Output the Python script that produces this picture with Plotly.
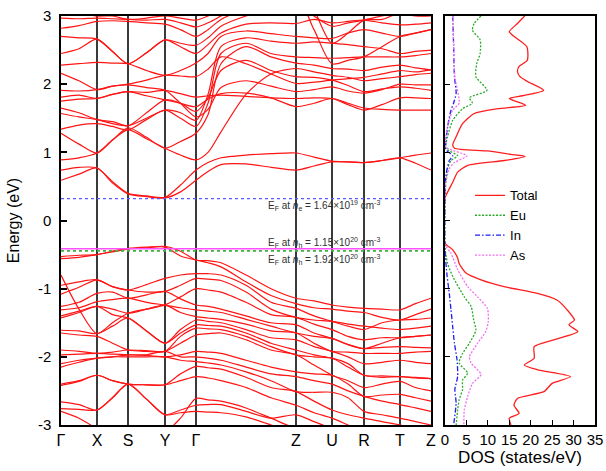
import plotly.graph_objects as go

# ---------------- band structure ----------------
# k-path positions of high-symmetry points (path length units)
hs_pos = [0, 36, 67, 104, 135, 235, 271, 303, 339, 370]
hs_labels = ["Γ", "X", "S", "Y", "Γ", "Z", "U", "R", "T", "Z"]

# sampling points along the path where band energies are tabulated
k_path = [0, 18, 36, 51.5, 67, 85.5, 104, 119.5, 135, 147, 160, 185, 210,
          235, 253, 271, 287, 303, 321, 339, 354.5, 370]

# conduction bands (eV)
cb01 = [0.59, 0.68, 0.77, 0.55, 0.39, 0.35, 0.33, 0.42, 0.59, 0.72, 0.82, 0.83, 0.78, 0.74, 0.80, 0.86, 0.86, 0.85, 0.88, 0.92, 0.84, 0.74]
cb02 = [0.74, 0.78, 0.77, 0.57, 0.40, 0.36, 0.34, 0.52, 0.74, 0.85, 0.92, 0.96, 0.98, 0.99, 0.93, 0.87, 0.86, 0.85, 0.88, 0.92, 0.96, 0.99]
cb03 = [0.89, 0.92, 0.99, 1.18, 1.33, 1.20, 1.06, 0.96, 0.89, 1.00, 1.30, 1.85, 2.15, 2.23, 2.18, 2.13, 2.10, 2.05, 2.08, 2.11, 2.14, 2.16]
cb04 = [1.28, 1.12, 0.99, 1.18, 1.36, 1.22, 1.06, 1.16, 1.28, 1.55, 2.30, 2.55, 2.40, 2.31, 2.28, 2.23, 2.22, 2.20, 2.25, 2.28, 2.24, 2.21]
cb05 = [1.34, 1.40, 1.42, 1.38, 1.33, 1.48, 1.62, 1.50, 1.38, 1.72, 2.45, 2.60, 2.45, 2.40, 2.39, 2.38, 2.39, 2.40, 2.40, 2.40, 2.42, 2.45]
cb06 = [1.57, 1.52, 1.48, 1.42, 1.39, 1.50, 1.62, 1.58, 1.47, 1.85, 2.55, 2.68, 2.63, 2.60, 2.62, 2.60, 2.58, 2.55, 2.52, 2.45, 2.48, 2.50]
cb07 = [1.65, 1.58, 1.48, 1.45, 1.39, 1.58, 1.77, 1.72, 1.60, 1.80, 2.20, 2.35, 2.20, 2.11, 2.10, 2.06, 1.98, 1.89, 1.93, 1.96, 1.94, 1.91]
cb08 = [1.75, 1.78, 1.79, 1.85, 1.89, 1.83, 1.77, 1.72, 1.67, 1.78, 1.86, 1.87, 1.80, 1.67, 1.72, 1.79, 1.72, 1.65, 1.63, 1.62, 1.62, 1.62]
cb09 = [1.81, 1.84, 1.79, 1.85, 1.89, 1.88, 1.91, 1.86, 1.81, 1.83, 1.84, 1.82, 1.80, 1.79, 1.80, 1.79, 1.70, 1.62, 1.70, 1.80, 1.80, 1.79]
cb10 = [1.91, 1.90, 1.92, 1.97, 1.99, 1.95, 1.91, 1.72, 1.52, 1.63, 1.95, 2.05, 1.97, 1.89, 1.92, 1.96, 1.90, 1.87, 1.92, 2.00, 1.99, 1.99]
cb11 = [2.16, 2.05, 1.92, 1.97, 2.00, 2.06, 2.13, 2.12, 2.11, 2.22, 2.40, 2.30, 2.15, 2.01, 2.03, 2.06, 2.08, 2.10, 2.15, 2.20, 2.18, 2.21]
cb12 = [2.28, 2.30, 2.32, 2.31, 2.30, 2.20, 2.13, 2.20, 2.31, 2.45, 2.70, 2.78, 2.74, 2.70, 2.68, 2.67, 2.75, 2.80, 2.75, 2.70, 2.75, 2.80]
cb13 = [2.45, 2.52, 2.66, 2.48, 2.30, 2.46, 2.65, 2.55, 2.45, 2.58, 2.75, 2.88, 2.90, 2.89, 2.95, 2.90, 2.92, 2.94, 2.90, 2.87, 2.88, 2.90]
cb14 = [2.70, 2.68, 2.66, 2.48, 2.30, 2.46, 2.65, 2.60, 2.57, 2.68, 2.85, 3.00, 3.10, 3.20, 3.00, 2.85, 2.90, 2.94, 3.00, 3.05, 3.00, 3.00]
cb15 = [2.82, 2.86, 2.92, 2.93, 2.92, 2.90, 2.88, 2.80, 2.70, 2.80, 2.95, 3.10, 3.20, 3.30, 2.80, 2.30, 2.35, 2.40, 2.55, 2.70, 2.75, 2.80]
cb16 = [2.97, 2.96, 2.97, 2.96, 2.95, 2.94, 2.95, 2.90, 2.84, 2.90, 3.00, 3.20, 3.40, 3.60, 3.10, 2.60, 2.75, 2.94, 2.95, 3.05, 3.10, 3.10]
cb17 = [3.10, 3.05, 3.00, 3.00, 2.95, 2.97, 3.00, 2.97, 2.94, 3.00, 3.10, 3.30, 3.50, 3.70, 3.50, 3.30, 3.40, 3.50, 3.40, 3.30, 3.30, 3.30]

# valence bands (eV)
vb01 = [-0.53, -0.51, -0.50, -0.45, -0.41, -0.39, -0.38, -0.45, -0.58, -0.59, -0.62, -0.80, -1.00, -1.14, -1.18, -1.24, -1.27, -1.29, -1.30, -1.31, -1.22, -1.14]
vb02 = [-0.56, -0.54, -0.50, -0.46, -0.42, -0.40, -0.39, -0.52, -0.58, -0.62, -0.68, -0.90, -1.10, -1.22, -1.28, -1.30, -1.33, -1.35, -1.42, -1.46, -1.38, -1.30]
vb03 = [-0.95, -0.90, -0.87, -0.97, -1.02, -0.94, -0.85, -0.80, -0.78, -0.78, -0.80, -0.95, -1.20, -1.29, -1.40, -1.48, -1.55, -1.60, -1.50, -1.46, -1.45, -1.43]
vb04 = [-1.08, -0.98, -0.87, -0.97, -1.02, -1.05, -1.04, -0.95, -0.85, -0.86, -0.88, -1.05, -1.30, -1.42, -1.46, -1.48, -1.52, -1.55, -1.58, -1.60, -1.58, -1.55]
vb05 = [-0.80, -1.30, -1.66, -1.50, -1.36, -1.30, -1.24, -1.12, -1.00, -1.02, -1.05, -1.20, -1.38, -1.42, -1.52, -1.60, -1.70, -1.75, -1.72, -1.72, -1.70, -1.68]
vb06 = [-1.26, -1.20, -1.07, -1.05, -1.14, -1.09, -1.04, -1.15, -1.24, -1.26, -1.30, -1.40, -1.50, -1.53, -1.65, -1.73, -1.82, -1.88, -1.80, -1.72, -1.70, -1.68]
vb07 = [-1.31, -1.28, -1.19, -1.16, -1.14, -1.20, -1.24, -1.28, -1.31, -1.33, -1.35, -1.45, -1.55, -1.65, -1.70, -1.73, -1.82, -1.88, -1.86, -1.85, -1.86, -1.87]
vb08 = [-1.40, -1.33, -1.26, -1.30, -1.36, -1.30, -1.24, -1.35, -1.41, -1.43, -1.45, -1.52, -1.62, -1.65, -1.80, -1.92, -1.93, -1.95, -1.95, -1.95, -1.93, -1.92]
vb09 = [-1.43, -1.35, -1.26, -1.38, -1.43, -1.62, -1.80, -1.60, -1.46, -1.48, -1.50, -1.60, -1.72, -1.75, -1.85, -1.92, -2.00, -2.10, -2.08, -2.05, -2.08, -2.10]
vb10 = [-1.61, -1.62, -1.66, -1.55, -1.43, -1.62, -1.80, -1.65, -1.53, -1.54, -1.55, -1.65, -1.80, -1.90, -1.97, -2.02, -2.10, -2.27, -2.28, -2.29, -2.30, -2.32]
vb11 = [-1.65, -1.68, -1.70, -1.80, -1.90, -1.92, -1.92, -1.70, -1.58, -1.59, -1.60, -1.70, -1.85, -1.97, -2.00, -2.02, -2.15, -2.27, -2.30, -2.29, -2.31, -2.32]
vb12 = [-1.90, -1.92, -1.95, -1.93, -1.90, -1.91, -1.92, -1.80, -1.68, -1.66, -1.65, -1.75, -1.90, -1.97, -2.12, -2.27, -2.35, -2.45, -2.40, -2.36, -2.45, -2.50]
vb13 = [-1.97, -1.96, -1.95, -1.96, -1.97, -1.98, -2.00, -1.97, -1.92, -1.93, -1.95, -2.05, -2.15, -2.22, -2.25, -2.27, -2.40, -2.58, -2.56, -2.55, -2.60, -2.65]
vb14 = [-2.10, -2.05, -2.02, -2.00, -1.97, -1.97, -1.92, -2.00, -2.00, -2.02, -2.05, -2.15, -2.25, -2.29, -2.35, -2.40, -2.50, -2.58, -2.65, -2.70, -2.75, -2.80]
vb15 = [-2.15, -2.08, -2.02, -2.00, -2.00, -2.00, -2.00, -2.05, -2.07, -2.09, -2.12, -2.22, -2.35, -2.51, -2.52, -2.52, -2.60, -2.80, -2.85, -2.90, -2.95, -3.00]
vb16 = [-2.40, -2.35, -2.27, -2.35, -2.40, -2.41, -2.41, -2.25, -2.14, -2.16, -2.18, -2.30, -2.45, -2.51, -2.65, -2.78, -2.85, -2.90, -2.95, -3.00, -3.05, -3.10]
vb17 = [-2.42, -2.36, -2.27, -2.35, -2.40, -2.41, -2.41, -2.35, -2.29, -2.31, -2.35, -2.45, -2.60, -2.71, -2.82, -2.90, -3.00, -3.10, -3.10, -3.10, -3.10, -3.10]
vb18 = [-2.66, -2.70, -2.78, -2.60, -2.40, -2.62, -2.85, -2.78, -2.71, -2.70, -2.70, -2.80, -2.90, -2.85, -2.95, -3.05, -3.10, -3.15, -3.15, -3.15, -3.15, -3.15]
vb19 = [-2.76, -2.77, -2.78, -2.60, -2.40, -2.62, -2.85, -2.82, -2.80, -2.81, -2.82, -2.88, -3.00, -3.10, -3.20, -3.20, -3.20, -3.20, -3.20, -3.20, -3.20, -3.20]
vb20 = [-2.80, -2.90, -3.05, -3.10, -3.10, -3.10, -3.10, -2.90, -2.61, -2.63, -2.65, -2.75, -2.90, -3.05, -3.10, -3.10, -3.10, -3.10, -3.10, -3.10, -3.10, -3.10]

bands = [cb01, cb02, cb03, cb04, cb05, cb06, cb07, cb08, cb09, cb10, cb11,
         cb12, cb13, cb14, cb15, cb16, cb17,
         vb01, vb02, vb03, vb04, vb05, vb06, vb07, vb08, vb09, vb10, vb11,
         vb12, vb13, vb14, vb15, vb16, vb17, vb18, vb19, vb20]

# Fermi levels for the three carrier concentrations (eV)
ef_levels = [0.32, -0.415, -0.445]
ef_texts = [
    "E<sub>F</sub> at <i>n</i><sub>e</sub> = 1.64×10<sup>19</sup> cm<sup>-3</sup>",
    "E<sub>F</sub> at <i>n</i><sub>h</sub> = 1.15×10<sup>20</sup> cm<sup>-3</sup>",
    "E<sub>F</sub> at <i>n</i><sub>h</sub> = 1.92×10<sup>20</sup> cm<sup>-3</sup>",
]
ef_text_y = [0.22, -0.32, -0.57]

# ---------------- density of states ----------------
dos_total_e = [3.0, 2.89, 2.77, 2.72, 2.55, 2.35, 2.26, 2.19, 2.11, 2.04, 1.91, 1.83, 1.79, 1.74, 1.69,
               1.64, 1.57, 1.42, 1.23, 1.11, 1.06, 1.02, 0.97, 0.94, 0.88, 0.81, 0.71, 0.56, 0.37, 0.33,
               -0.33, -0.43, -0.55, -0.63, -0.77, -0.87, -0.97, -1.07, -1.17, -1.31, -1.46, -1.53, -1.63,
               -1.75, -1.85, -2.02, -2.12, -2.19, -2.29, -2.39, -2.51, -2.61, -2.71, -2.83, -2.90, -3.0]
dos_total = [18.6, 16.9, 15.0, 15.7, 19.1, 19.2, 17.3, 16.9, 17.5, 19.2, 23.0, 18.1, 15.0, 16.9, 18.8,
             12.3, 6.8, 4.1, 2.6, 1.8, 2.2, 9.9, 15.3, 18.7, 13.8, 5.3, 2.95, 1.8, 0.24, 0.0,
             0.0, 1.8, 2.95, 3.3, 4.9, 8.4, 13.8, 21.6, 26.2, 28.5, 30.2, 28.9, 31.0,
             25.4, 20.8, 20.8, 18.5, 21.6, 29.3, 25.0, 23.1, 16.9, 16.1, 17.3, 15.0, 15.4]

dos_eu_e = [3.0, 2.89, 2.79, 2.65, 2.45, 2.30, 2.11, 1.91, 1.80, 1.72, 1.64, 1.47, 1.23, 1.06, 0.95,
            0.88, 0.76, 0.56, 0.34, -0.40, -0.63, -0.82, -1.12, -1.26, -1.46, -1.61, -1.80, -1.95,
            -2.09, -2.24, -2.34, -2.48, -2.63, -2.78, -3.0]
dos_eu = [8.4, 6.8, 6.4, 8.2, 8.2, 7.4, 7.2, 9.8, 5.7, 6.4, 4.1, 1.8, 0.6, 0.2, 2.95,
          1.4, 0.6, 0.2, 0.0, 0.0, 0.6, 1.8, 4.5, 6.1, 6.7, 7.2, 5.7, 4.1,
          3.3, 5.3, 4.1, 4.1, 3.3, 2.95, 2.6]

dos_in_e = [3.0, 2.6, 2.11, 1.87, 1.72, 1.62, 1.37, 1.04, 0.95, 0.88, 0.66, 0.37, -0.43, -0.82,
            -1.07, -1.31, -1.56, -1.80, -2.04, -2.29, -2.48, -2.68, -3.0]
dos_in = [1.8, 2.0, 2.2, 2.6, 2.0, 1.4, 0.6, 0.2, 1.8, 1.0, 0.2, 0.0, 0.0, 0.5,
          1.0, 1.4, 1.8, 2.2, 2.8, 2.95, 2.3, 2.6, 2.0]

dos_as_e = [3.0, 2.6, 2.11, 1.72, 1.62, 1.37, 1.08, 0.95, 0.85, 0.76, 0.56, 0.37, -0.35, -0.48,
            -0.72, -0.97, -1.12, -1.29, -1.48, -1.63, -1.80, -2.0, -2.09, -2.26, -2.39, -2.58,
            -2.78, -3.0]
dos_as = [1.8, 2.0, 2.3, 3.3, 1.8, 0.6, 0.2, 5.1, 2.2, 1.0, 0.2, 0.0, 0.0, 1.4,
          2.95, 5.3, 7.6, 9.9, 10.1, 9.5, 7.6, 5.7, 6.1, 8.4, 6.4, 5.3,
          4.5, 4.4]

FONT = "Liberation Sans, Arial, sans-serif"
BAND_RED = "rgb(255,20,20)"

fig = go.Figure()

for b in bands:
    fig.add_trace(go.Scatter(
        x=k_path, y=b, mode="lines", xaxis="x", yaxis="y",
        line=dict(color=BAND_RED, width=1.2, shape="spline", smoothing=0.8),
        showlegend=False, hoverinfo="skip", cliponaxis=True))

# Fermi level markers
ef_styles = [dict(color="rgb(90,90,255)", width=1.2, dash="dot"),
             dict(color="rgb(255,80,255)", width=1.6, dash="solid"),
             dict(color="rgb(60,180,60)", width=1.6, dash="dot")]
for lev, st in zip(ef_levels, ef_styles):
    fig.add_trace(go.Scatter(
        x=[hs_pos[0], hs_pos[-1]], y=[lev, lev], mode="lines",
        xaxis="x", yaxis="y", line=st, showlegend=False, hoverinfo="skip"))

for txt, ty in zip(ef_texts, ef_text_y):
    fig.add_annotation(x=205, y=ty, xref="x", yref="y", text=txt,
                       showarrow=False, xanchor="left", yanchor="middle",
                       font=dict(family=FONT, size=10, color="#303030"))

# DOS curves
dos_specs = [
    ("Total", dos_total, dos_total_e, dict(color="rgb(255,30,30)", width=1.3, dash="solid")),
    ("Eu", dos_eu, dos_eu_e, dict(color="rgb(40,170,40)", width=1.3, dash="2px,1.5px")),
    ("In", dos_in, dos_in_e, dict(color="rgb(30,30,240)", width=1.3, dash="5px,2px,1.5px,2px")),
    ("As", dos_as, dos_as_e, dict(color="rgb(240,110,240)", width=1.3, dash="2px,1.5px")),
]
for name, d, e, st in dos_specs:
    fig.add_trace(go.Scatter(
        x=d, y=e, mode="lines", name=name, xaxis="x2", yaxis="y2",
        line=dict(shape="spline", smoothing=0.6, **st), hoverinfo="skip"))

frame = dict(showline=True, linecolor="black", linewidth=1.5, mirror=True,
             zeroline=False, automargin=False)

fig.update_layout(
    width=606, height=471,
    margin=dict(l=61, r=11, t=16, b=46),
    paper_bgcolor="white", plot_bgcolor="white",
    font=dict(family=FONT, color="black"),
    xaxis=dict(domain=[0, 0.6929], range=[hs_pos[0], hs_pos[-1]],
               tickvals=hs_pos, ticktext=hs_labels, ticks="",
               showgrid=True, gridcolor="#3a3a3a", gridwidth=1.5,
               tickfont=dict(size=16), **frame),
    yaxis=dict(range=[-3, 3], tickvals=[-3, -2, -1, 0, 1, 2, 3],
               ticktext=["-3", "-2", "-1", "0", "1", "2", "3"],
               ticks="inside", ticklen=6, tickwidth=1.5, tickcolor="black",
               showgrid=False, tickfont=dict(size=15), ticklabelstandoff=5,
               title=dict(text="Energy (eV)", font=dict(size=16), standoff=14),
               **frame),
    xaxis2=dict(domain=[0.7191, 1], range=[0, 35], tickvals=[0, 5, 10, 15, 20, 25, 30, 35],
                ticks="inside", ticklen=5, tickwidth=1.2, tickcolor="black",
                showgrid=False, tickfont=dict(size=15), anchor="y2",
                title=dict(text="DOS (states/eV)", font=dict(size=17), standoff=4),
                **frame),
    yaxis2=dict(range=[-3, 3], tickvals=[-3, -2, -1, 0, 1, 2, 3], anchor="x2",
                ticks="inside", ticklen=5, tickwidth=1.2, tickcolor="black",
                showticklabels=False, showgrid=False, **frame),
    legend=dict(x=0.766, y=0.598, xanchor="left", yanchor="top",
                bgcolor="rgba(0,0,0,0)", font=dict(size=13), tracegroupgap=0,
                itemwidth=30),
)

fig.write_html("out.html")
